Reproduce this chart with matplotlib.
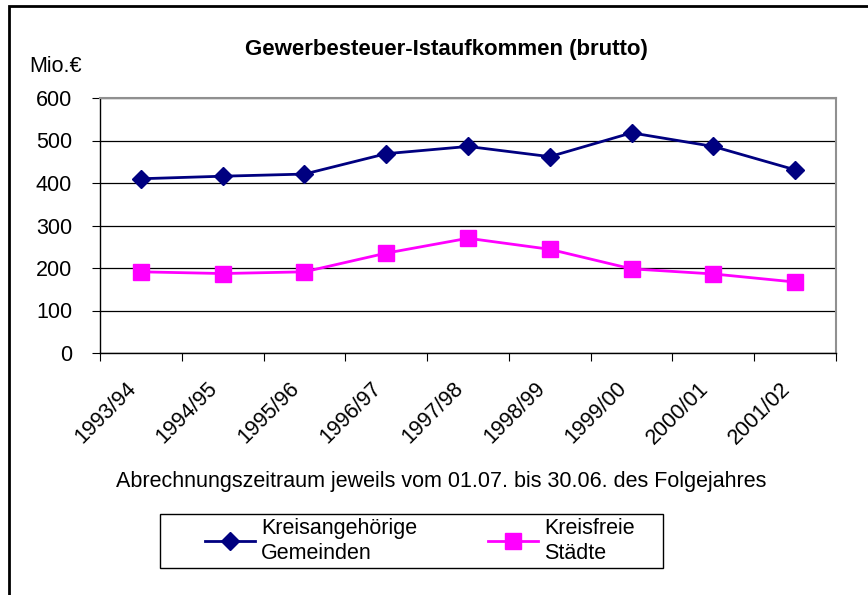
import matplotlib.pyplot as plt
from matplotlib.patches import Rectangle

plt.rcParams['font.family'] = ['Liberation Sans', 'DejaVu Sans']

## Data
seasons = ["1993/94", "1994/95", "1995/96", "1996/97", "1997/98",
           "1998/99", "1999/00", "2000/01", "2001/02"]
kreisangehoerige = [410, 416, 421, 469, 486, 462, 518, 486, 431]
kreisfreie = [191, 187, 191, 235, 270, 244, 198, 186, 167]

W, H = 868, 595
fs = 15.5
fig = plt.figure(figsize=(W / 100, H / 100), dpi=100)

# plot area in pixel coords -> figure fractions
left, right, top, bottom = 100, 836, 98, 353
ax = fig.add_axes([left / W, 1 - bottom / H, (right - left) / W, (bottom - top) / H])

x = list(range(len(seasons)))
ax.plot(x, kreisangehoerige, color="#000080", lw=2, marker="D", ms=9,
        label="Kreisangehörige\nGemeinden", zorder=3)
ax.plot(x, kreisfreie, color="#FF00FF", lw=2, marker="s", ms=11,
        label="Kreisfreie\nStädte", zorder=3)

ax.set_xlim(-0.5, len(seasons) - 0.5)
ax.set_ylim(0, 600)
ax.set_yticks(range(0, 601, 100))
ax.yaxis.grid(True, color="black", lw=0.9)
ax.set_axisbelow(True)

# category ticks between labels, labels a bit left of centre (like excel)
ax.set_xticks([i - 0.5 for i in range(len(seasons) + 1)])
ax.set_xticklabels([])
ax.set_xticks([i - 0.19 for i in x], minor=True)
ax.set_xticklabels(seasons, minor=True, rotation=45, ha="right", va="top",
                   rotation_mode="anchor", fontsize=fs)
ax.tick_params(axis="x", which="minor", length=0, pad=18)
ax.tick_params(axis="x", which="major", length=6, direction="out", color="black")
ax.tick_params(axis="y", length=6, direction="out", labelsize=fs, pad=14)

for s in ["top", "right"]:
    ax.spines[s].set_color("#909090")
    ax.spines[s].set_linewidth(1.5)
for s in ["left", "bottom"]:
    ax.spines[s].set_color("black")
    ax.spines[s].set_linewidth(1)

fig.text(446 / W, 1 - 50 / H, "Gewerbesteuer-Istaufkommen (brutto)",
         ha="center", va="center", fontsize=16, fontweight="bold")
fig.text(29 / W, 1 - 67 / H, "Mio.€", ha="left", va="center", fontsize=fs)
fig.text(441 / W, 1 - 482 / H,
         "Abrechnungszeitraum jeweils vom 01.07. bis 30.06. des Folgejahres",
         ha="center", va="center", fontsize=fs)

# legend without its own frame, box drawn separately
leg = fig.legend(loc="center left", ncol=2, frameon=False,
                 bbox_to_anchor=(205 / W, 1 - 541 / H),
                 fontsize=fs, borderaxespad=0, borderpad=0,
                 handlelength=2.3, handletextpad=0.3, columnspacing=3.3)
for t in leg.get_texts():
    t.set_linespacing(1.3)
fig.patches.append(Rectangle((160 / W, 1 - 568 / H), 503 / W, 54 / H,
                             transform=fig.transFigure, fill=False,
                             edgecolor="black", lw=1))

# outer chart border (only left/top visible in the crop)
fig.patches.append(Rectangle((9 / W, -0.1), 1.2, 1 - 6 / H + 0.1,
                             transform=fig.transFigure, fill=False,
                             edgecolor="black", lw=2))

fig.savefig("out.png", dpi=100)
